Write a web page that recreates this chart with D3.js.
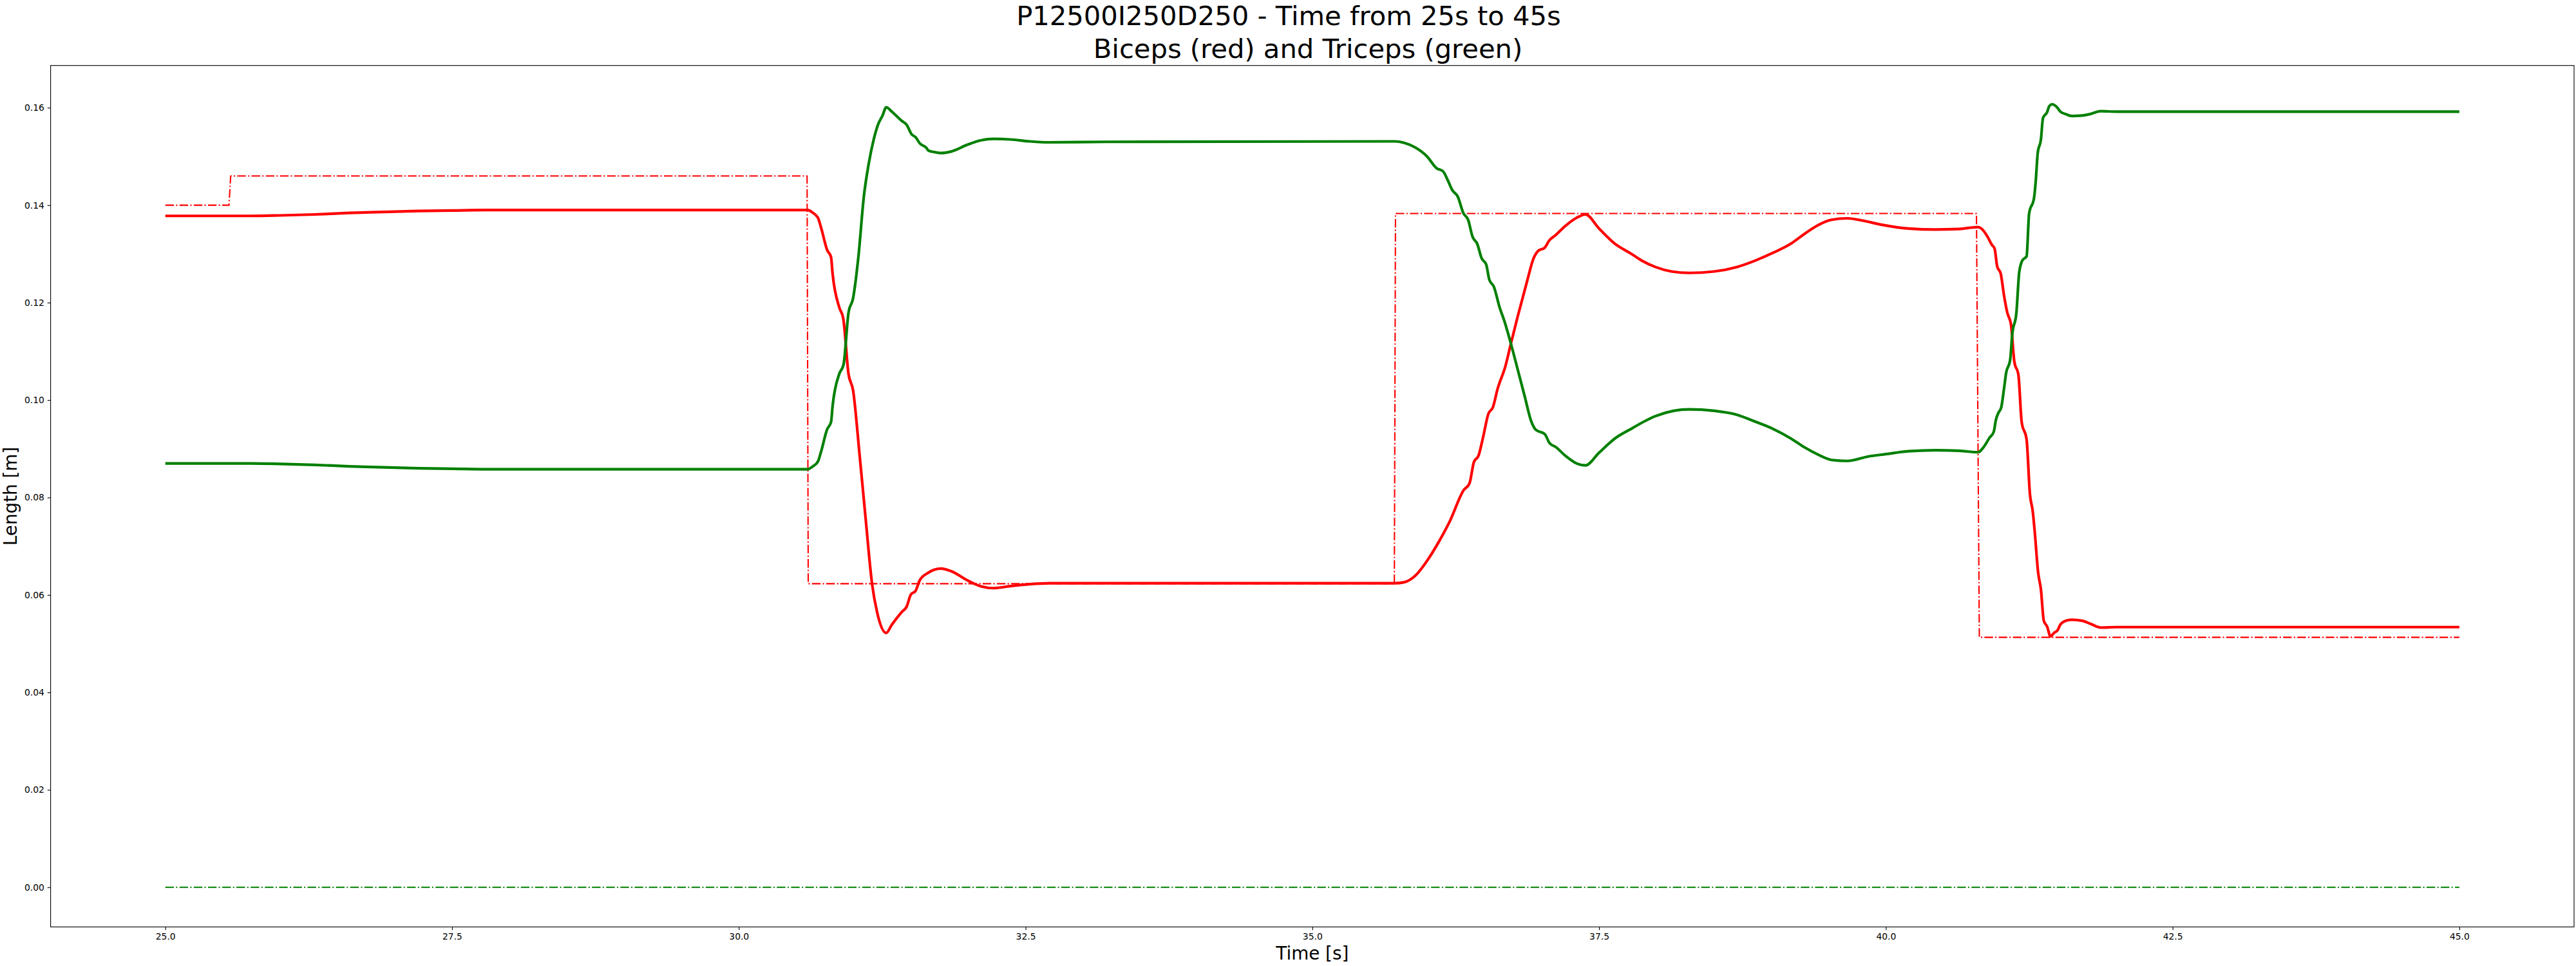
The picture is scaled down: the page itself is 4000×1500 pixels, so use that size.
<!DOCTYPE html>
<html>
<head>
<meta charset="utf-8">
<script src="https://cdn.jsdelivr.net/npm/d3@7.9.0/dist/d3.min.js"></script>
<style>
  body { margin: 0; background: #fff; }
  svg { display: block; font-family: "DejaVu Sans", sans-serif; }
</style>
</head>
<body>
<svg id="chart" width="4000" height="1500"></svg>
<script>
// biceps (red) measured length
const bicepsTime = [25.0, 25.5, 25.75, 26.0, 26.3, 26.6, 26.9, 27.2, 27.5, 27.8, 28.5, 30.6,
  30.647, 30.69, 30.718, 30.77, 30.804, 30.818, 30.876, 30.91, 30.956, 30.996, 31.053, 31.105,
  31.162, 31.205, 31.285, 31.334, 31.42, 31.463, 31.5, 31.54, 31.577, 31.648, 31.706, 31.763,
  31.849, 31.992, 32.107, 32.221, 32.364, 32.536, 32.708, 33.0, 35.72, 35.8, 35.9, 36.0, 36.1,
  36.2, 36.319, 36.37, 36.409, 36.449, 36.488, 36.535, 36.574, 36.614, 36.685, 36.732, 36.791,
  36.87, 36.929, 36.968, 37.027, 37.067, 37.118, 37.204, 37.303, 37.381, 37.5, 37.637, 37.775,
  37.874, 37.992, 38.13, 38.287, 38.504, 38.7, 38.858, 39.015, 39.173, 39.29, 39.409, 39.527,
  39.665, 39.803, 39.96, 40.197, 40.433, 40.63, 40.805, 40.833, 40.887, 40.923, 40.948, 40.97,
  41.002, 41.03, 41.059, 41.091, 41.12, 41.156, 41.184, 41.227, 41.256, 41.281, 41.299, 41.327,
  41.352, 41.377, 41.406, 41.435, 41.47, 41.496, 41.521, 41.567, 41.621, 41.71, 41.782, 41.872,
  42.015, 45.0];
const bicepsLength = [0.1378, 0.1378, 0.1378, 0.1379, 0.1381, 0.1384, 0.1386, 0.1388, 0.1389,
  0.1390, 0.1390, 0.1390, 0.1384, 0.1374, 0.1353, 0.1308, 0.1293, 0.1258, 0.1190, 0.1168, 0.1054,
  0.1020, 0.0887, 0.0758, 0.0622, 0.0565, 0.0522, 0.0539, 0.0565, 0.0576, 0.0601, 0.0608, 0.0630,
  0.0645, 0.0652, 0.0654, 0.0649, 0.0630, 0.0618, 0.0614, 0.0618, 0.0622, 0.0624, 0.0624, 0.0624,
  0.0626, 0.0640, 0.0670, 0.0708, 0.0752, 0.0815, 0.0829, 0.0873, 0.0886, 0.0923, 0.0972, 0.0985,
  0.1022, 0.1071, 0.1117, 0.1172, 0.1242, 0.1291, 0.1306, 0.1313, 0.1328, 0.1338, 0.1357, 0.1374,
  0.1381, 0.1352, 0.1321, 0.1301, 0.1286, 0.1273, 0.1264, 0.1261, 0.1264, 0.1273, 0.1286, 0.1302,
  0.1321, 0.1341, 0.1359, 0.1370, 0.1373, 0.1368, 0.1360, 0.1352, 0.1350, 0.1351, 0.1355, 0.1352,
  0.1335, 0.1319, 0.1311, 0.1275, 0.1259, 0.1215, 0.1179, 0.1155, 0.1079, 0.1051, 0.0955, 0.0919,
  0.0807, 0.0771, 0.0727, 0.0647, 0.0611, 0.0547, 0.0535, 0.0515, 0.0523, 0.0527, 0.0539, 0.0547,
  0.0549, 0.0547, 0.0541, 0.0533, 0.0534, 0.0534];

// triceps (green) measured length
const tricepsTime = [25.0, 25.75, 26.0, 26.3, 26.6, 26.9, 27.2, 27.5, 27.8, 30.6, 30.646, 30.69,
  30.718, 30.77, 30.804, 30.818, 30.876, 30.913, 30.956, 30.996, 31.042, 31.09, 31.133, 31.176,
  31.213, 31.253, 31.285, 31.334, 31.42, 31.463, 31.505, 31.543, 31.577, 31.634, 31.654, 31.706,
  31.763, 31.849, 31.992, 32.107, 32.221, 32.364, 32.536, 32.708, 33.2, 35.72, 35.8, 35.9, 36.0,
  36.082, 36.141, 36.181, 36.22, 36.267, 36.318, 36.358, 36.397, 36.437, 36.476, 36.516, 36.543,
  36.582, 36.634, 36.673, 36.732, 36.791, 36.85, 36.909, 36.948, 37.027, 37.067, 37.126, 37.204,
  37.303, 37.381, 37.5, 37.637, 37.795, 37.893, 37.992, 38.15, 38.287, 38.504, 38.7, 38.858,
  39.015, 39.173, 39.29, 39.409, 39.527, 39.665, 39.843, 40.0, 40.197, 40.433, 40.63, 40.805,
  40.851, 40.905, 40.941, 40.959, 40.984, 41.005, 41.03, 41.048, 41.084, 41.102, 41.138, 41.163,
  41.191, 41.227, 41.249, 41.292, 41.306, 41.324, 41.352, 41.37, 41.406, 41.424, 41.449, 41.496,
  41.521, 41.567, 41.621, 41.71, 41.782, 41.872, 42.015, 45.0];
const tricepsLength = [0.0870, 0.0870, 0.0869, 0.0867, 0.0864, 0.0862, 0.0860, 0.0859, 0.0858,
  0.0858, 0.0864, 0.0874, 0.0895, 0.0940, 0.0955, 0.0989, 0.1054, 0.1073, 0.1179, 0.1209, 0.1293,
  0.1418, 0.1486, 0.1535, 0.1565, 0.1584, 0.1601, 0.1592, 0.1573, 0.1565, 0.1546, 0.1539, 0.1527,
  0.1518, 0.1512, 0.1509, 0.1507, 0.1510, 0.1524, 0.1533, 0.1536, 0.1535, 0.1531, 0.1529, 0.1530,
  0.1531, 0.1528, 0.1518, 0.1500, 0.1476, 0.1469, 0.1451, 0.1431, 0.1418, 0.1383, 0.1370, 0.1335,
  0.1321, 0.1291, 0.1278, 0.1247, 0.1233, 0.1189, 0.1163, 0.1115, 0.1062, 0.1009, 0.0956, 0.0939,
  0.0930, 0.0912, 0.0903, 0.0886, 0.0870, 0.0866, 0.0892, 0.0921, 0.0943, 0.0956, 0.0967, 0.0978,
  0.0981, 0.0978, 0.0970, 0.0956, 0.0941, 0.0921, 0.0903, 0.0888, 0.0877, 0.0875, 0.0884, 0.0889,
  0.0895, 0.0897, 0.0896, 0.0893, 0.0903, 0.0923, 0.0935, 0.0959, 0.0975, 0.0984, 0.1023, 0.1055,
  0.1083, 0.1135, 0.1179, 0.1263, 0.1287, 0.1295, 0.1383, 0.1415, 0.1447, 0.1507, 0.1535, 0.1579,
  0.1591, 0.1603, 0.1607, 0.1600, 0.1592, 0.1587, 0.1583, 0.1584, 0.1587, 0.1593, 0.1592, 0.1592];

// reference (dash-dot) signals
const bicepsRefTime = [25.0, 25.555, 25.57, 30.595, 30.605, 35.715, 35.725, 40.79, 40.815, 45.0];
const bicepsRefLength = [0.1400, 0.1400, 0.1460, 0.1460, 0.0623, 0.0623, 0.1383, 0.1383, 0.0513, 0.0513];
const tricepsRefTime = [25.0, 45.0];
const tricepsRefLength = [0.0, 0.0];

const xTicks = [25.0, 27.5, 30.0, 32.5, 35.0, 37.5, 40.0, 42.5, 45.0];
const yTicks = [0.00, 0.02, 0.04, 0.06, 0.08, 0.10, 0.12, 0.14, 0.16];

const svg = d3.select('#chart');
const plotLeft = 78.6, plotRight = 3997, plotTop = 101.7, plotBottom = 1439.3;

let x = d3.scaleLinear().domain([24, 46]).range([plotLeft, plotRight]);
let y = d3.scaleLinear().domain([-0.00814, 0.16867]).range([plotBottom, plotTop]);

const pt = 100 / 72;

// axes
let xAxis = svg.append('g')
  .attr('transform', `translate(0,${plotBottom})`)
  .call(d3.axisBottom(x).tickValues(xTicks).tickFormat(d3.format('.1f'))
    .tickSize(3.5 * pt).tickPadding(3.5 * pt).tickSizeOuter(0));
let yAxis = svg.append('g')
  .attr('transform', `translate(${plotLeft},0)`)
  .call(d3.axisLeft(y).tickValues(yTicks).tickFormat(d3.format('.2f'))
    .tickSize(3.5 * pt).tickPadding(3.5 * pt).tickSizeOuter(0));

[xAxis, yAxis].forEach((g) => {
  g.select('.domain').remove();
  g.selectAll('line').attr('stroke', '#000').attr('stroke-width', 0.8 * pt);
  g.selectAll('text').attr('font-size', 10 * pt).attr('font-family', 'DejaVu Sans').attr('fill', '#000');
});

// lines
let line = d3.line()
  .x((d) => x(d[0]))
  .y((d) => y(d[1]));
let smooth = d3.line()
  .x((d) => x(d[0]))
  .y((d) => y(d[1]))
  .curve(d3.curveMonotoneX);

const dashDot = [6.4, 1.6, 1, 1.6].map((v) => v * 1.5 * pt).join(',');

let series = [
  { t: bicepsRefTime, v: bicepsRefLength, color: '#ff0000', width: 1.5 * pt, dash: dashDot, gen: line },
  { t: bicepsTime, v: bicepsLength, color: '#ff0000', width: 3 * pt, dash: null, gen: smooth },
  { t: tricepsRefTime, v: tricepsRefLength, color: '#008000', width: 1.5 * pt, dash: dashDot, gen: line },
  { t: tricepsTime, v: tricepsLength, color: '#008000', width: 3 * pt, dash: null, gen: smooth },
];

series.forEach((s) => {
  svg.append('path')
    .datum(s.t.map((t, i) => [t, s.v[i]]))
    .attr('d', s.gen)
    .attr('fill', 'none')
    .attr('stroke', s.color)
    .attr('stroke-width', s.width)
    .attr('stroke-dasharray', s.dash)
    .attr('stroke-linejoin', 'round');
});

// frame
svg.append('rect')
  .attr('x', plotLeft).attr('y', plotTop)
  .attr('width', plotRight - plotLeft).attr('height', plotBottom - plotTop)
  .attr('fill', 'none').attr('stroke', '#000').attr('stroke-width', 0.8 * pt);

// labels
svg.append('text')
  .attr('x', (plotLeft + plotRight) / 2).attr('y', 1490)
  .attr('text-anchor', 'middle').attr('font-size', 20 * pt)
  .text('Time [s]');
svg.append('text')
  .attr('transform', `translate(26,${(plotTop + plotBottom) / 2}) rotate(-90)`)
  .attr('text-anchor', 'middle').attr('font-size', 20 * pt)
  .text('Length [m]');

// title
svg.append('text')
  .attr('x', 2001).attr('y', 39)
  .attr('text-anchor', 'middle').attr('font-size', 30 * pt)
  .text('P12500I250D250 - Time from 25s to 45s');
svg.append('text')
  .attr('x', 2031).attr('y', 90)
  .attr('text-anchor', 'middle').attr('font-size', 30 * pt)
  .text('Biceps (red) and Triceps (green)');
</script>
</body>
</html>
